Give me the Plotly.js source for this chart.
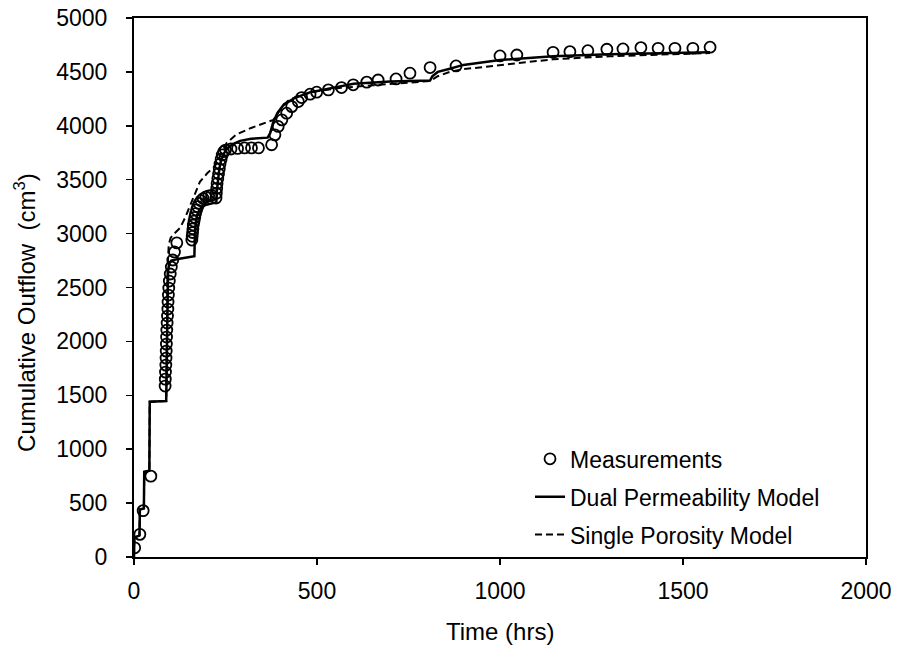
<!DOCTYPE html>
<html>
<head>
<meta charset="utf-8">
<script src="https://cdn.plot.ly/plotly-3.0.1.min.js"></script>
<style>
html,body{margin:0;padding:0;background:#fff;}
#chart{width:898px;height:660px;}
</style>
</head>
<body>
<div id="chart"></div>
<script>
// Measurements
const measT = [2,16,25,46,
  85,85.5,86,87,87.5,88,88.5,89,89.6,90.5,91.5,92.5,93,94,95,96.5,99,102,106,110.5,117,
  158,159,160,161,162,164,166,168,171,174,178,183,189,196,204,212,
  224,225,226,227,229,231,233,235,238,241,245,
  250,265,283,302,321,340,
  376,385,394,404,417,431,449,458,481,499,531,567,599,636,667,716,754,809,880,
  1000,1046,1145,1191,1240,1292,1336,1385,1432,1478,1527,1574];
const measY = [85,210,430,750,
  1586,1650,1715,1780,1845,1910,1975,2040,2105,2170,2235,2300,2365,2430,2495,2560,2625,2690,2755,2830,2914,
  2940,2975,3010,3045,3080,3115,3150,3185,3220,3250,3280,3305,3325,3340,3350,3355,
  3330,3375,3420,3465,3510,3555,3600,3645,3690,3730,3760,
  3775,3785,3790,3795,3795,3795,
  3824,3916,3994,4055,4117,4178,4225,4262,4293,4312,4333,4355,4380,4405,4425,4435,4488,4540,4555,
  4648,4657,4682,4688,4697,4710,4713,4725,4719,4719,4719,4729];

// Dual Permeability Model
const dualT = [0,1,15,16,27,28,42,43,88,89,90,91,93,96,102,120,165,166,168,172,180,195,225,226,229,233,238,245,255,270,290,320,365,372,380,392,410,440,480,530,600,700,809,815,830,863,900,1000,1145,1300,1450,1574];
const dualY = [0,180,200,440,450,790,800,1440,1447,1800,2200,2500,2650,2720,2750,2765,2790,2950,3080,3170,3230,3265,3290,3380,3500,3600,3680,3740,3790,3830,3860,3880,3890,3930,4030,4120,4200,4260,4310,4345,4390,4412,4420,4460,4500,4530,4565,4610,4645,4663,4675,4682];

// Single Porosity Model
const singT = [0,1,15,16,27,28,42,43,88,89,90,92,95,100,110,126,140,160,180,200,217,235,253,280,320,381,400,420,450,500,560,650,750,809,830,863,900,1000,1145,1300,1450,1574];
const singY = [0,180,200,440,450,790,800,1440,1447,1900,2300,2700,2900,2960,3000,3053,3150,3320,3480,3560,3610,3720,3840,3920,3980,4055,4150,4230,4280,4320,4350,4375,4400,4415,4460,4500,4525,4565,4617,4645,4665,4675];

const xTicks = [0,500,1000,1500,2000];
const yTicks = [0,500,1000,1500,2000,2500,3000,3500,4000,4500,5000];
const xTitle = 'Time (hrs)';
const yTitle = 'Cumulative Outflow  (cm<sup>3</sup>)';

const FONT = 'Liberation Sans, Arial, sans-serif';

const traces = [
  {x: measT, y: measY, mode: 'markers', type: 'scatter', name: 'Measurements', legendgroup: 'a',
   marker: {symbol: 'circle-open', size: 11, color: '#000', line: {width: 1.8, color: '#000'}}},
  {x: dualT, y: dualY, mode: 'lines', type: 'scatter', name: 'Dual Permeability Model', legendgroup: 'b',
   line: {color: '#000', width: 2.5}},
  {x: singT, y: singY, mode: 'lines', type: 'scatter', name: 'Single Porosity Model', legendgroup: 'c',
   line: {color: '#000', width: 2, dash: '7px,4px'}}
];

const axisCommon = {
  showgrid: false, zeroline: false, showline: true, linecolor: '#000', linewidth: 2, mirror: true,
  ticks: 'outside', ticklen: 6, tickwidth: 1.5, tickcolor: '#000',
  tickfont: {family: FONT, size: 23, color: '#000'}
};

const layout = {
  width: 898, height: 660,
  margin: {l: 134, r: 32, t: 18, b: 103},
  paper_bgcolor: '#fff', plot_bgcolor: '#fff',
  font: {family: FONT, size: 23, color: '#000'},
  showlegend: true,
  legend: {x: 0.541, y: 0.222, xanchor: 'left', yanchor: 'top', bgcolor: 'rgba(0,0,0,0)',
           font: {family: FONT, size: 23, color: '#000'}, tracegroupgap: 5, traceorder: 'grouped'},
  xaxis: Object.assign({range: [0, 2000], tickvals: xTicks, ticktext: xTicks.map(String), ticklabelstandoff: 6}, axisCommon),
  yaxis: Object.assign({range: [0, 5000], tickvals: yTicks, ticktext: yTicks.map(String), ticklabelstandoff: 14}, axisCommon),
  annotations: [
    {text: yTitle, xref: 'paper', yref: 'paper', x: -0.149, y: 0.4545, xanchor: 'center', yanchor: 'middle',
     textangle: -90, showarrow: false, font: {family: FONT, size: 24, color: '#000'}},
    {text: xTitle, xref: 'paper', yref: 'paper', x: 0.5, y: -0.139, xanchor: 'center', yanchor: 'middle',
     showarrow: false, font: {family: FONT, size: 24, color: '#000'}}
  ]
};

Plotly.newPlot('chart', traces, layout, {displayModeBar: false, staticPlot: true});
</script>
</body>
</html>
